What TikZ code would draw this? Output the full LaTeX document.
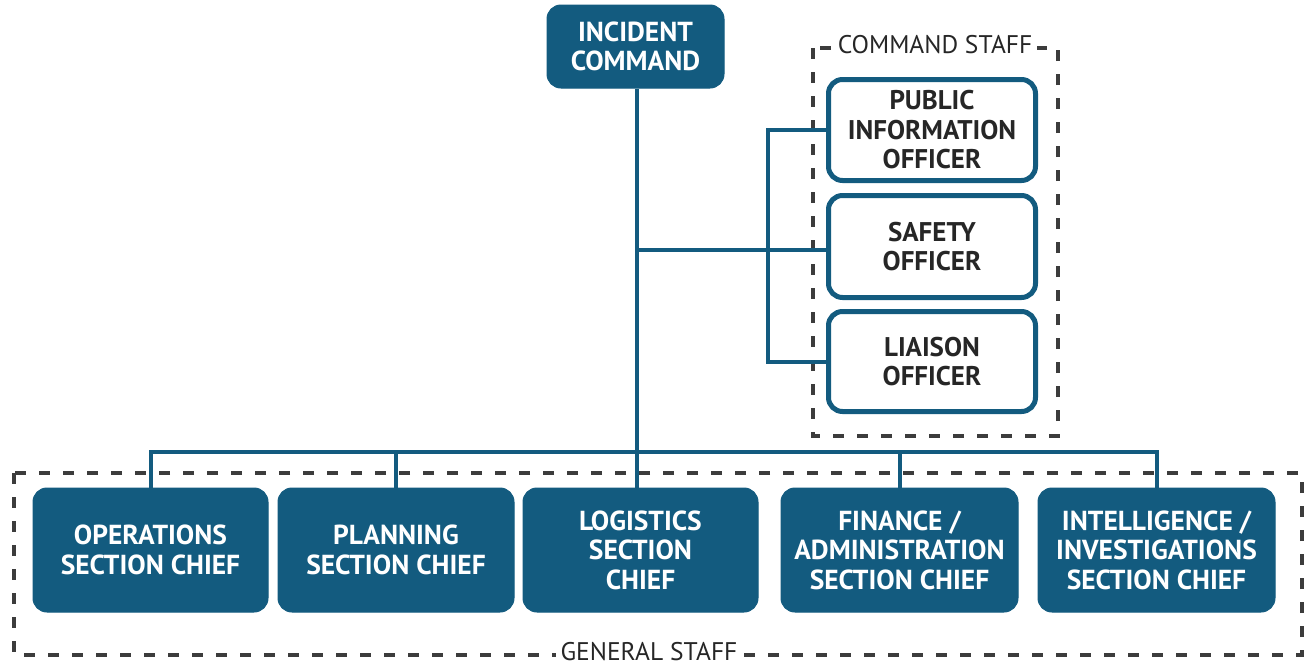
\documentclass[tikz,border=0pt]{standalone}
\usepackage{fontspec}
\setmainfont{PT Sans}
\definecolor{ics}{HTML}{135B7F}
\definecolor{dashgray}{HTML}{3C3C3C}
\tikzset{
  chief/.style={rounded corners=14pt, fill=ics, draw=ics, line width=1pt, text=white, align=center, inner sep=0pt, font=\fontsize{27.5}{29.5}\selectfont\bfseries},
  officer/.style={rounded corners=14pt, fill=white, draw=ics, line width=5pt, text=black!85, align=center, inner sep=0pt, font=\fontsize{27}{29.5}\selectfont\bfseries},
  conn/.style={draw=ics, line width=4pt},
  dashline/.style={draw=dashgray, line width=3.5pt, dash pattern=on 11pt off 13pt},
  grouplabel/.style={fill=white, text=black!85, inner sep=5pt, font=\fontsize{25.5}{27}\selectfont}
}
\begin{document}
\begin{tikzpicture}[x=1pt,y=-1pt]
\useasboundingbox (0,0) rectangle (1307,667);
% group frames
\draw[dashline] (813,48) rectangle (1058,436);
\node[grouplabel] (cslabel) at (935,45) {COMMAND STAFF};
\draw[dashline] (14,473) rectangle (1302,655);
\node[grouplabel] (gslabel) at (649,652) {GENERAL STAFF};
% nodes
\node[chief, minimum width=177pt, minimum height=83pt] (ic) at (635.5,46.5) {INCIDENT\\COMMAND};
\node[officer, minimum width=207pt, minimum height=101pt] (pio) at (932,130) {PUBLIC\\INFORMATION\\OFFICER};
\node[officer, minimum width=207pt, minimum height=102pt] (safety) at (932,246.5) {SAFETY\\OFFICER};
\node[officer, minimum width=207pt, minimum height=100pt] (liaison) at (932,361.5) {LIAISON\\OFFICER};
\node[chief, minimum width=235pt, minimum height=124pt] (ops) at (150.5,550) {OPERATIONS\\SECTION CHIEF};
\node[chief, minimum width=236pt, minimum height=124pt] (plan) at (396,550) {PLANNING\\SECTION CHIEF};
\node[chief, minimum width=235pt, minimum height=124pt] (log) at (640.5,550) {LOGISTICS\\SECTION\\CHIEF};
\node[chief, minimum width=237pt, minimum height=124pt] (fin) at (899.5,550) {FINANCE /\\ADMINISTRATION\\SECTION CHIEF};
\node[chief, minimum width=237pt, minimum height=124pt] (intel) at (1156.5,550) {INTELLIGENCE /\\INVESTIGATIONS\\SECTION CHIEF};
% connectors
\coordinate (bus) at (637,452);
\coordinate (csx) at (768,250);
\draw[conn] (ic.south -| bus) -- (bus |- log.north);
\draw[conn] (ops.north) -- (ops.north |- bus) -- (intel.north |- bus) -- (intel.north);
\draw[conn] (plan.north) -- (plan.north |- bus);
\draw[conn] (fin.north) -- (fin.north |- bus);
\draw[conn] (bus |- csx) -- (csx) ;
\draw[conn] (pio.west) -- (pio.west -| csx) -- (liaison.west -| csx) -- (liaison.west);
\draw[conn] (csx) -- (safety.west |- csx);
\end{tikzpicture}
\end{document}
